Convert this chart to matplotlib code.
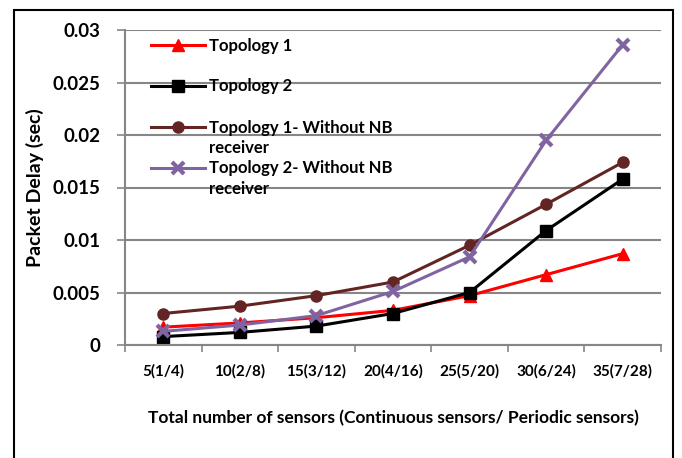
import matplotlib.pyplot as plt
import matplotlib.patches as patches
from matplotlib.lines import Line2D
import numpy as np

categories = ['5(1/4)', '10(2/8)', '15(3/12)', '20(4/16)', '25(5/20)', '30(6/24)', '35(7/28)']
topology1 = [0.0017, 0.0021, 0.0026, 0.0033, 0.0047, 0.0067, 0.0087]
topology2 = [0.0008, 0.0012, 0.0018, 0.0030, 0.0050, 0.0109, 0.0158]
topology1_no_nb = [0.0030, 0.0037, 0.0047, 0.0060, 0.0095, 0.0134, 0.0174]
topology2_no_nb = [0.0013, 0.0019, 0.0028, 0.0051, 0.0084, 0.0195, 0.0286]
y_ticks = [0, 0.005, 0.01, 0.015, 0.02, 0.025, 0.03]
y_tick_labels = ['0', '0.005', '0.01', '0.015', '0.02', '0.025', '0.03']

plt.rcParams['font.family'] = ['Lato', 'DejaVu Sans']
plt.rcParams['font.weight'] = 'bold'

fig = plt.figure(figsize=(6.82, 4.58), dpi=100)
ax = fig.add_axes([125 / 682, 1 - 345 / 458, 536 / 682, 315 / 458])

x = np.arange(len(categories))
l1, = ax.plot(x, topology1, color='#ff0000', lw=2.2, marker='^', ms=8)
l2, = ax.plot(x, topology2, color='#000000', lw=2.2, marker='s', ms=8)
l3, = ax.plot(x, topology1_no_nb, color='#632523', lw=2.2, marker='o', ms=8)
l4, = ax.plot(x, topology2_no_nb, color='#8064a2', lw=2.2, marker='x', ms=9, mew=3)

ax.set_xlim(-0.5, len(categories) - 0.5)
ax.set_ylim(0, 0.03)
ax.set_yticks(y_ticks)
ax.set_yticklabels(y_tick_labels, fontsize=13.5, fontweight='bold')
ax.set_xticks(x)
ax.set_xticklabels(categories, fontsize=11, fontweight='bold')
ax.set_xticks(np.arange(-0.5, len(categories)), minor=True)
ax.tick_params(axis='x', which='major', length=0, pad=14)
ax.tick_params(axis='x', which='minor', length=5, color='#868686', width=1.2)
ax.tick_params(axis='y', length=6, color='#868686', width=1.2, pad=12)

ax.yaxis.grid(True, color='#868686', lw=1.5)
ax.set_axisbelow(True)
for side in ['top', 'right']:
    ax.spines[side].set_visible(False)
for side in ['left', 'bottom']:
    ax.spines[side].set_color('#868686')
    ax.spines[side].set_linewidth(1.5)

ax.set_ylabel('Packet Delay (sec)', fontsize=14, fontweight='bold', labelpad=6)
ax.set_xlabel('Total number of sensors (Continuous sensors/ Periodic sensors)',
              fontsize=12.5, fontweight='bold', labelpad=22)

# legend rows laid out like the Excel legend: blank rows and wrapped labels
blank = Line2D([], [], color='none')
handles = [l1, blank, l2, blank, l3, blank, l4, blank]
labels = ['Topology 1', '', 'Topology 2', '', 'Topology 1- Without NB', 'receiver',
          'Topology 2- Without NB', 'receiver']
ax.legend(handles, labels, loc='upper left', bbox_to_anchor=(0.035, 1.0), frameon=False,
          fontsize=12, handlelength=3.2, handletextpad=0.25, labelspacing=0.27,
          borderaxespad=0.2, borderpad=0.25)

fig.patches.append(patches.Rectangle((14 / 682, -0.05), 659 / 682, 1.05 - 10 / 458,
                                     transform=fig.transFigure, fill=False,
                                     edgecolor='black', lw=1.5))

plt.savefig('out.png', dpi=100)
